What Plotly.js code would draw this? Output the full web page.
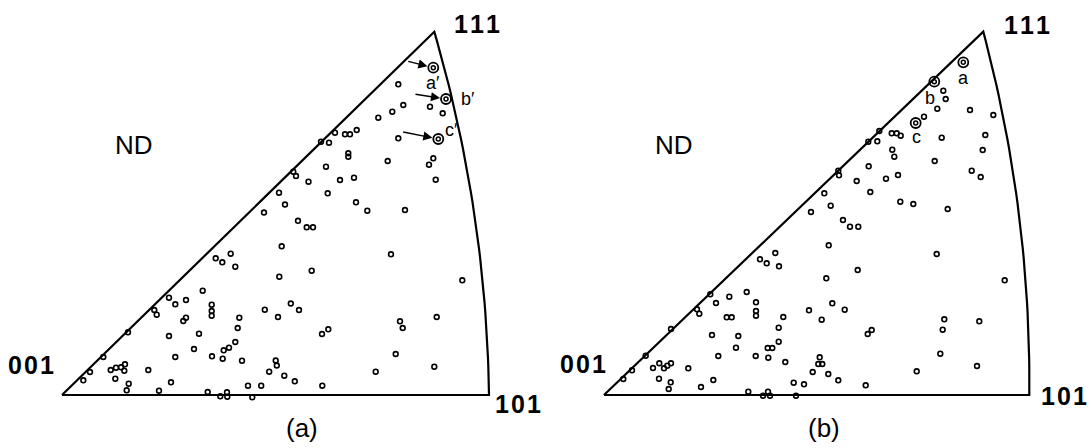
<!DOCTYPE html>
<html>
<head>
<meta charset="utf-8">
<script src="https://cdn.plot.ly/plotly-3.0.1.min.js"></script>
<style>html,body{margin:0;padding:0;background:#fff;}#chart{width:1091px;height:448px;}</style>
</head>
<body>
<div id="chart"></div>
<script>
// Positions inside each triangle, measured from the 001 corner (same units on both axes)
// Panel (a)
var aX = [231.3,234,246.5,217,223,202,236,244.7,251,336.3,341.3,330.3,316.3,368,380.7,336.3,294.7,288,283,273,267,259,286.3,286.3,325.7,371.3,367,373.7,264,278,292,265.7,294,305.3,343,219.7,329,249.7,217.3,400.3,228.8,237,202.8,216,338,340.7,374.7,266.3,260,213.7,214.8,207.2,222.3,232.8,260.3,333.7,313.7,372.3,199.2,153.7,160.3,168.7,173.3,140.7,107,113.3,124,92.3,94.7,149.7,149.7,149.7,124,121.3,177.3,175.7,137,107,66,173.3,167,161.7,132,150,160.7,113.3,180,41.3,28,21.3,48.7,54,59,63,62.3,53.3,66.7,64.7,86.3,97,109,145.7,158.3,165,165.3,186,190.3];
var aY = [223.3,219,213.3,202.3,190.5,182.5,174.2,167.7,167.7,310.7,290,283.3,277.3,288.3,281.7,256.7,265,260.7,260.7,262.3,252.3,253.3,241.7,238.3,234,236.7,230.3,215.3,228.3,215,217.3,201.7,192.7,184.3,185,148.7,140.7,124.3,118.3,114.7,91.5,85,85.3,78,73.7,67,78,65.7,61,34.5,29.5,23.3,19.3,13.7,9.3,41,23.3,28.3,9.3,136.7,132.7,141.3,128.3,104.3,97.3,90.7,95,85,80.3,90.3,84,79.3,77.3,74,77.3,67,61.3,59,62.7,53,47.3,44.7,46,38.7,36.3,38,34.3,38,23,14.7,25,27.3,27.7,30.7,24.3,16.3,11.3,4.7,25,4.3,12.7,3,-1.3,2.7,-1.7,9.3,-2.3];
var aMarkedX = [371.3,384,376.3];
var aMarkedY = [327.3,296,256];
var aMarkedLabels = ["a\u2032","b\u2032","c\u2032"];

// Panel (b)
var bX = [339.3,341.7,333.3,320,366,389.3,381.3,378.7,337.7,330.7,367.7,376.7,275.3,287.7,292.7,296.7,264.3,273.3,288.3,290.3,264.7,234.3,235,252.7,282,294,220.3,266.3,226.7,296.3,309.3,343.7,207,239,246,254.3,224.7,332.7,253.7,222.3,400.7,228.3,240.7,205,217.7,340.3,338.7,375.3,267.7,263.7,215.7,214.3,218.3,208.7,224.3,234.3,261.7,200,336.3,312.7,373,156,162.7,171.3,175,142.7,106.3,125.3,112,93,95.3,152,152,152,122.7,127.7,179.3,174.7,134.3,108,67,132,163.7,168.3,174.7,151.7,164.3,114.3,181.3,41.7,28,19.3,49,55.3,60,63.3,67,55,66.7,64.7,84.3,97,109.3,144.3,159,164,166,189.7,192];
var bY = [304.3,296,286.3,278.3,285,280,260,245,257.3,234,224.3,218,264,261.7,261.7,259.3,253.3,253.7,245.3,238.3,228.7,224.3,219.7,214,216.3,220,201.7,203,189.3,193.3,191,186,183,175,168.3,168.3,149.7,141,125,116.7,114.7,91.7,85.3,84.7,75.3,75.7,65.3,73.7,65,61,37.7,31,31,23,21,14.7,9.7,10.7,41.3,23.7,29,135.7,131.7,142,128.7,103,100.7,98.3,92,85.7,81.3,92.7,84,79.3,77.7,77.7,78,67.3,59,60,66,47.3,47,47,53.3,39,37.3,39,33,39.3,24.7,16,27,31.7,26.7,29.3,31.7,16.3,12.7,6,26.7,8,15,3.3,-0.7,3.3,-0.7,12.3,-0.7];
var bMarkedX = [359.3,330.3,311.7];
var bMarkedY = [332.7,313.3,272];
var bMarkedLabels = ["a","b","c"];

// Corner poles of each triangle (001, 101, 111)
var poleLabels = ["0\u200A0\u200A1","1\u200A0\u200A1","1\u200A1\u200A1"];
var aCornerX = [0,427,372.3];
var aCornerY = [0,0,363.3];
var bCornerX = [0,425.3,379.3];
var bCornerY = [0,0,363.3];

// Outline: 001 -> 111 straight, 111 -> 101 great-circle arc (stereographic), 101 -> 001 straight
function outline(cx, cy) {
  var s101 = Math.SQRT2 - 1, s111 = 1 / (Math.sqrt(3) + 1);
  var a = cx[1] / s101, c = cy[2] / s111, b = cx[2] / s111 - a;
  var xs = [cx[0], cx[2]], ys = [cy[0], cy[2]];
  var tMax = Math.atan2(s111, 1 + s111);
  for (var i = 1; i <= 40; i++) {
    var t = tMax * (1 - i / 40);
    var X = -1 + Math.SQRT2 * Math.cos(t), Y = Math.SQRT2 * Math.sin(t);
    xs.push(a * X + b * Y); ys.push(c * Y);
  }
  xs.push(cx[0]); ys.push(cy[0]);
  return {x: xs, y: ys};
}

var oa = outline(aCornerX, aCornerY), ob = outline(bCornerX, bCornerY);
var lineStyle = {color: '#000', width: 2.2};
var small = {symbol: 'circle-open', size: 4.8, color: '#000', line: {color: '#000', width: 1.6}};
var bigOuter = {symbol: 'circle-open', size: 10, color: '#000', line: {color: '#000', width: 1.8}};
var bigInner = {symbol: 'circle-open', size: 4, color: '#000', line: {color: '#000', width: 1.5}};

var traces = [
  {x: oa.x, y: oa.y, mode: 'lines', line: lineStyle, xaxis: 'x', yaxis: 'y', hoverinfo: 'skip'},
  {x: aX, y: aY, mode: 'markers', marker: small, xaxis: 'x', yaxis: 'y'},
  {x: aMarkedX, y: aMarkedY, mode: 'markers', marker: bigOuter, xaxis: 'x', yaxis: 'y'},
  {x: aMarkedX, y: aMarkedY, mode: 'markers', marker: bigInner, xaxis: 'x', yaxis: 'y'},
  {x: ob.x, y: ob.y, mode: 'lines', line: lineStyle, xaxis: 'x2', yaxis: 'y2', hoverinfo: 'skip'},
  {x: bX, y: bY, mode: 'markers', marker: small, xaxis: 'x2', yaxis: 'y2'},
  {x: bMarkedX, y: bMarkedY, mode: 'markers', marker: bigOuter, xaxis: 'x2', yaxis: 'y2'},
  {x: bMarkedX, y: bMarkedY, mode: 'markers', marker: bigInner, xaxis: 'x2', yaxis: 'y2'}
];

var FONT = 'Liberation Sans, Arial, Helvetica, sans-serif';
function txt(xr, yr, x, y, text, size, weight) {
  return {xref: xr, yref: yr, x: x, y: y, text: text, showarrow: false,
    xanchor: 'center', yanchor: 'middle',
    font: {family: FONT, size: size, color: '#000', weight: weight}};
}
function arrow(xr, yr, x, y, ax, ay) {
  return {xref: xr, yref: yr, axref: xr, ayref: yr, x: x, y: y, ax: ax, ay: ay, text: '',
    showarrow: true, arrowhead: 2, arrowsize: 1.3, arrowwidth: 1.4, arrowcolor: '#000', standoff: 6};
}

var ann = [
  txt('x','y', 415, 371, poleLabels[2], 25, 'bold'),
  txt('x','y', -31, 30, poleLabels[0], 25, 'bold'),
  txt('x','y', 456, -9, poleLabels[1], 25, 'bold'),
  txt('x','y', 72, 250, 'ND', 26, 500),
  txt('x','y', 240, -33, '(a)', 26, 'normal'),
  txt('x','y', 371.3, 311.7, aMarkedLabels[0], 18, 'normal'),
  txt('x','y', 406, 296, aMarkedLabels[1], 18, 'normal'),
  txt('x','y', 389, 265, aMarkedLabels[2], 18, 'normal'),
  arrow('x','y', aMarkedX[0], aMarkedY[0], 344.7, 334),
  arrow('x','y', aMarkedX[1], aMarkedY[1], 352, 301),
  arrow('x','y', aMarkedX[2], aMarkedY[2], 339.7, 263.3),
  txt('x2','y2', 423, 370, poleLabels[2], 25, 'bold'),
  txt('x2','y2', -21, 31, poleLabels[0], 25, 'bold'),
  txt('x2','y2', 460, -1, poleLabels[1], 25, 'bold'),
  txt('x2','y2', 70, 250, 'ND', 26, 500),
  txt('x2','y2', 220, -33, '(b)', 26, 'normal'),
  txt('x2','y2', 359.3, 317, bMarkedLabels[0], 18, 'normal'),
  txt('x2','y2', 326, 297, bMarkedLabels[1], 18, 'normal'),
  txt('x2','y2', 312.7, 257.7, bMarkedLabels[2], 18, 'normal')
];

var hidden = {showgrid: false, zeroline: false, showticklabels: false, showline: false, ticks: '', fixedrange: true};
var layout = {
  width: 1091, height: 448, autosize: false,
  margin: {l: 0, r: 0, t: 0, b: 0, pad: 0},
  paper_bgcolor: '#fff', plot_bgcolor: '#fff',
  showlegend: false,
  xaxis: Object.assign({domain: [0, 0.5], range: [-62, 483.5], anchor: 'y'}, hidden),
  yaxis: Object.assign({domain: [0, 1], range: [-53, 395], anchor: 'x'}, hidden),
  xaxis2: Object.assign({domain: [0.5, 1], range: [-58.5, 487], anchor: 'y2'}, hidden),
  yaxis2: Object.assign({domain: [0, 1], range: [-53, 395], anchor: 'x2'}, hidden),
  annotations: ann
};
Plotly.newPlot('chart', traces, layout, {staticPlot: true, displayModeBar: false});
</script>
</body>
</html>
